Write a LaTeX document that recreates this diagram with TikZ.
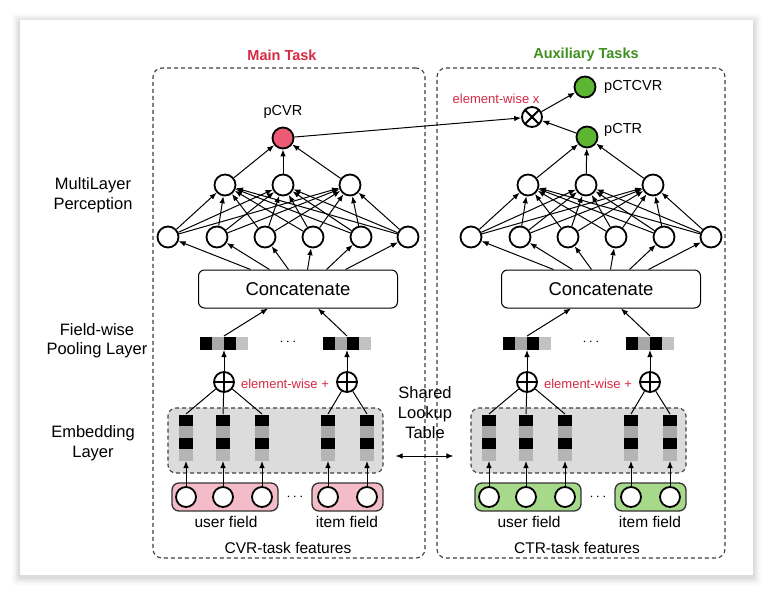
\documentclass[tikz,border=0pt]{standalone}
\usepackage{fontspec}
\setmainfont{Liberation Sans}
\usepackage{tikz}
\usetikzlibrary{arrows.meta,positioning}

\definecolor{taskred}{HTML}{D42A43}
\definecolor{taskgreen}{HTML}{3F8F1E}
\definecolor{cvrfill}{HTML}{EC5B73}
\definecolor{ctrfill}{HTML}{5DB531}
\definecolor{userpink}{HTML}{F4BCC8}
\definecolor{usergreen}{HTML}{A6D98A}
\definecolor{embgray}{HTML}{DCDCDC}
\definecolor{cellgray}{HTML}{A8A8A8}

\begin{document}
\begin{tikzpicture}[x=1pt, y=-1pt, ->, >={Latex[length=7pt,width=5.5pt]}, line width=1pt, font=\fontsize{15.5}{19}\selectfont]
    \tikzstyle{neuron}=[circle, draw, line width=1.8pt, fill=white, minimum size=21pt, inner sep=0pt]
    \tikzstyle{opplus}=[neuron, minimum size=20pt, path picture={
        \draw[-, line width=1.8pt] (path picture bounding box.north) -- (path picture bounding box.south);
        \draw[-, line width=1.8pt] (path picture bounding box.west) -- (path picture bounding box.east);}]
    \tikzstyle{optimes}=[neuron, minimum size=20pt, path picture={
        \draw[-, line width=1.8pt] (path picture bounding box.north west) -- (path picture bounding box.south east);
        \draw[-, line width=1.8pt] (path picture bounding box.south west) -- (path picture bounding box.north east);}]
    \tikzstyle{concatbox}=[draw, rectangle, rounded corners=6pt, fill=white, line width=1pt, minimum width=199pt, minimum height=38pt, font=\fontsize{18.5}{20}\selectfont]
    \tikzstyle{taskbox}=[draw=black!75, dash pattern=on 4pt off 3pt, rounded corners=9pt, line width=1.1pt]
    \tikzstyle{embbox}=[taskbox, fill=embgray, rounded corners=8pt]
    \tikzstyle{fieldbox}=[draw=black!80, rounded corners=7pt, line width=1.3pt, minimum height=28pt]
    \tikzstyle{embcol}=[inner sep=0pt, minimum width=14pt, minimum height=46pt, path picture={
        \foreach \c [count=\n from 0] in {black,cellgray,black,cellgray!85}
          \fill[\c] ([yshift=-\n*11.5pt]path picture bounding box.north west) rectangle ++(14pt,-11.5pt);}]
    \tikzstyle{poolvec}=[inner sep=0pt, minimum width=48pt, minimum height=13pt, path picture={
        \foreach \c [count=\n from 0] in {black,cellgray,black,cellgray!70}
          \fill[\c] ([xshift=\n*12pt]path picture bounding box.north west) rectangle ++(12pt,-13pt);}]
    \tikzstyle{redtext}=[text=taskred, font=\fontsize{13}{15}\selectfont]

    % card
    \fill[white] (0,0) rectangle (773,596);
    \foreach \o/\a in {8/0.02,6/0.03,4/0.04,2/0.05}
      \fill[black, opacity=\a, rounded corners=3pt] (20-\o,22-\o) rectangle (753+\o,577+\o);
    \fill[white] (20,20) rectangle (753,575);

    % task frames
    \node[taskbox, minimum width=272pt, minimum height=490pt] (mainbox) at (289,313) {};
    \node[taskbox, minimum width=288pt, minimum height=490pt] (auxbox) at (581,313) {};
    \node[text=taskred, font=\bfseries\fontsize{14.5}{16}\selectfont] (maintitle) at (282,55) {Main Task};
    \node[text=taskgreen, font=\bfseries\fontsize{14.5}{16}\selectfont] (auxtitle) at (586,55) {Auxiliary Tasks};

    % layer names
    \node[align=center, font=\fontsize{16.5}{20}\selectfont] (mlpname) at (93,195) {MultiLayer\\Perception};
    \node[align=center, font=\fontsize{16.5}{19}\selectfont] (poolname) at (97,341) {Field-wise\\Pooling Layer};
    \node[align=center, font=\fontsize{16.5}{20}\selectfont] (embname) at (93,443) {Embedding\\Layer};

    \foreach \s/\dx/\fld in {L/0/userpink, R/303/usergreen} {
      % embedding layer
      \node[embbox, minimum width=215pt, minimum height=65pt] (emb\s) at (275.5+\dx,440.5) {};
      \node[fieldbox, fill=\fld, minimum width=106pt] (user\s) at (225+\dx,497) {};
      \node[fieldbox, fill=\fld, minimum width=71pt] (item\s) at (347.5+\dx,497) {};
      \node (indots\s) at (295+\dx,497) {$\cdots$};
      \foreach \k/\x in {1/186,2/223,3/262,4/328,5/367} {
        \node[embcol] (col\s\k) at (\x+\dx,437.5) {};
        \node[neuron, minimum size=20pt] (in\s\k) at (\x+\dx,497) {};
        \draw (in\s\k) -- (col\s\k.south);
      }
      \node (userlab\s) at (226+\dx,522) {user field};
      \node (itemlab\s) at (347+\dx,522) {item field};

      % pooling
      \node[opplus] (plus\s1) at (224+\dx,382) {};
      \node[opplus] (plus\s2) at (347+\dx,382) {};
      \node[redtext] (ewplus\s) at (285+\dx,384) {element-wise +};
      \node[poolvec] (pool\s1) at (224+\dx,343) {};
      \node[poolvec] (pool\s2) at (347+\dx,343) {};
      \node (pooldots\s) at (288+\dx,342) {$\cdots$};
      \foreach \k in {1,2,3} \draw[-] (col\s\k.north) -- (plus\s1);
      \foreach \k in {4,5} \draw[-] (col\s\k.north) -- (plus\s2);
      \draw (plus\s1) -- (pool\s1.south);
      \draw (plus\s2) -- (pool\s2.south);

      % MLP
      \node[concatbox] (cat\s) at (298+\dx,289) {Concatenate};
      \draw (pool\s1.north) -- ([xshift=-30pt]cat\s.south);
      \draw (pool\s2.north) -- ([xshift=20pt]cat\s.south);
      \foreach \i/\x in {1/168,2/217,3/265,4/313,5/361,6/408}
        \node[neuron] (a\s\i) at (\x+\dx,237) {};
      \foreach \j/\x in {1/225,2/283,3/350}
        \node[neuron] (b\s\j) at (\x+\dx,185) {};
      \foreach \i in {1,...,6} {
        \draw ([xshift={(\i-3.5)*19pt}]cat\s.north) -- (a\s\i);
        \foreach \j in {1,2,3} \draw (a\s\i) -- (b\s\j);
      }
    }

    \node (cvrfeat) at (288,548) {CVR-task features};
    \node (ctrfeat) at (577,548) {CTR-task features};

    % outputs
    \node[neuron, fill=cvrfill] (pcvr) at (283,138) {};
    \node[neuron, fill=ctrfill] (pctr) at (587,137) {};
    \node[neuron, fill=ctrfill] (pctcvr) at (585,87) {};
    \node[optimes] (times) at (532,117) {};
    \node[above=4pt of pcvr, font=\fontsize{14.5}{16}\selectfont] (pcvrlab) {pCVR};
    \node[right=2pt of pctr, yshift=7pt, font=\fontsize{14.5}{16}\selectfont] (pctrlab) {pCTR};
    \node[right=4pt of pctcvr, font=\fontsize{14.5}{16}\selectfont] (pctcvrlab) {pCTCVR};
    \node[redtext] (ewtimes) at (496,99) {element-wise x};

    \node[align=center, font=\fontsize{16.5}{20}\selectfont] (shared) at (425,413) {Shared\\Lookup\\Table};

    \path
    (bL1) edge (pcvr)
    (bL2) edge (pcvr)
    (bL3) edge (pcvr)
    (bR1) edge (pctr)
    (bR2) edge (pctr)
    (bR3) edge (pctr)
    (pcvr) edge (times)
    (pctr) edge (times)
    (times) edge (pctcvr);

    \draw[<->, shorten <=12pt, shorten >=17pt] ([yshift=-15.5pt]embL.east) -- ([yshift=-15.5pt]embR.west);
\end{tikzpicture}
\end{document}
